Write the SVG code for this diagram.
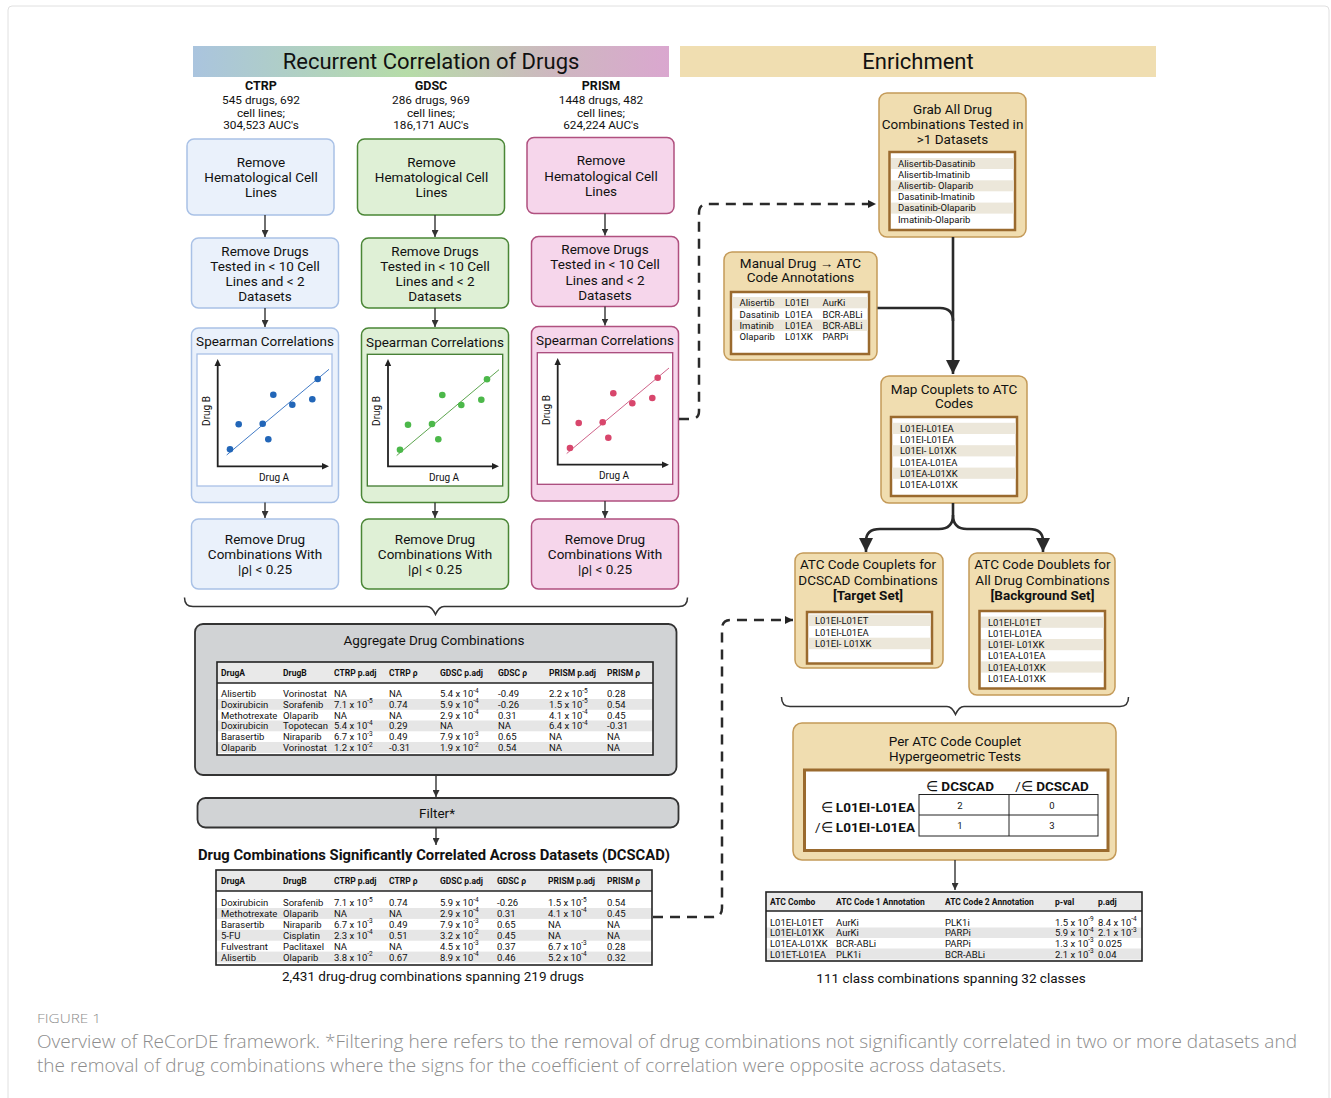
<svg xmlns="http://www.w3.org/2000/svg" width="1331" height="1098" viewBox="0 0 1331 1098">
<defs>
<linearGradient id="hg" x1="0" y1="0" x2="1" y2="0">
<stop offset="0" stop-color="#aac4de"/>
<stop offset="0.45" stop-color="#b6dca8"/>
<stop offset="0.75" stop-color="#cdb8bf"/>
<stop offset="1" stop-color="#daa7cf"/>
</linearGradient>
<marker id="a" viewBox="0 0 10 10" refX="10" refY="5" markerWidth="7" markerHeight="7" markerUnits="userSpaceOnUse" orient="auto"><path d="M0,0L10,5L0,10z" fill="#333"/></marker>
<marker id="ab" viewBox="0 0 10 10" refX="10" refY="5" markerWidth="14" markerHeight="14" markerUnits="userSpaceOnUse" orient="auto"><path d="M0,0L10,5L0,10z" fill="#2a2a2a"/></marker>
<marker id="as" viewBox="0 0 10 10" refX="10" refY="5" markerWidth="8" markerHeight="8" markerUnits="userSpaceOnUse" orient="auto"><path d="M0,0L10,5L0,10z" fill="#222"/></marker>
</defs>
<style>
text{font-family:Roboto,"Liberation Sans",sans-serif;fill:#111;dominant-baseline:central}
.c{text-anchor:middle}
.f13{font-size:13.5px}
.f12{font-size:12.5px}
.f11{font-size:11.8px}
.f10{font-size:10px}
.tb{font-size:9.5px}
.th{font-size:8.5px;font-weight:bold}
.bd{font-weight:bold}
.el{font-weight:normal}
.sup{font-size:6.5px}
.hdr{font-size:22px}
.ctrp{fill:#eaf1fb;stroke:#a9c1e6;stroke-width:1.5}
.gdsc{fill:#dff0d6;stroke:#4a8636;stroke-width:1.5}
.prism{fill:#f6d6eb;stroke:#b0507f;stroke-width:1.5}
.enr{fill:#f0ddb0;stroke:#c49a58;stroke-width:1.5}
.inn{fill:#fff;stroke:#9a6a2e;stroke-width:2.5}
.sh{fill:#ece7da}
.shg{fill:#e6e6e6}
.ln{fill:none;stroke:#333;stroke-width:1.4}
.lnb{fill:none;stroke:#2a2a2a;stroke-width:2.6}
.dash{fill:none;stroke:#2a2a2a;stroke-width:2.5;stroke-dasharray:10 7}
.cap{font-family:"Open Sans","Liberation Sans",sans-serif;fill:#8c8c8c;font-weight:300}
</style>
<rect x="8" y="6" width="1321" height="1100" rx="4" fill="#fff" stroke="#e0e0e0"/>

<g id="hdr-left"><rect x="193" y="46" width="476" height="31" fill="url(#hg)"/><text x="431" y="61.5" class="c hdr">Recurrent Correlation of Drugs</text></g>
<g id="hdr-right"><rect x="680" y="46" width="476" height="31" fill="#f0deb1"/><text x="918" y="61.5" class="c hdr">Enrichment</text></g>

<g id="lbl-ctrp"><text x="261" y="85" class="c f12 bd">CTRP</text><text x="261" y="100" class="c f11">545 drugs, 692</text><text x="261" y="112.5" class="c f11">cell lines;</text><text x="261" y="125" class="c f11">304,523 AUC's</text></g>
<g id="lbl-gdsc"><text x="431" y="85" class="c f12 bd">GDSC</text><text x="431" y="100" class="c f11">286 drugs, 969</text><text x="431" y="112.5" class="c f11">cell lines;</text><text x="431" y="125" class="c f11">186,171 AUC's</text></g>
<g id="lbl-prism"><text x="601" y="85" class="c f12 bd">PRISM</text><text x="601" y="100" class="c f11">1448 drugs, 482</text><text x="601" y="112.5" class="c f11">cell lines;</text><text x="601" y="125" class="c f11">624,224 AUC's</text></g>

<g id="ctrp-heme"><rect x="187" y="139" width="147" height="76" rx="7" class="ctrp"/><text x="261" y="161.5" class="c f13">Remove</text><text x="261" y="177" class="c f13">Hematological Cell</text><text x="261" y="192" class="c f13">Lines</text></g>
<g id="gdsc-heme"><rect x="357.5" y="139" width="147" height="76" rx="7" class="gdsc"/><text x="431.5" y="161.5" class="c f13">Remove</text><text x="431.5" y="177" class="c f13">Hematological Cell</text><text x="431.5" y="192" class="c f13">Lines</text></g>
<g id="prism-heme"><rect x="527" y="137.5" width="147" height="76" rx="7" class="prism"/><text x="601" y="160" class="c f13">Remove</text><text x="601" y="175.5" class="c f13">Hematological Cell</text><text x="601" y="190.5" class="c f13">Lines</text></g>

<g id="ctrp-drugs"><rect x="191.5" y="238" width="147" height="70" rx="7" class="ctrp"/><text x="265" y="250.5" class="c f13">Remove Drugs</text><text x="265" y="265.5" class="c f13">Tested in &lt; 10 Cell</text><text x="265" y="281" class="c f13">Lines and &lt; 2</text><text x="265" y="296" class="c f13">Datasets</text></g>
<g id="gdsc-drugs"><rect x="361.5" y="238" width="147" height="70" rx="7" class="gdsc"/><text x="435" y="250.5" class="c f13">Remove Drugs</text><text x="435" y="265.5" class="c f13">Tested in &lt; 10 Cell</text><text x="435" y="281" class="c f13">Lines and &lt; 2</text><text x="435" y="296" class="c f13">Datasets</text></g>
<g id="prism-drugs"><rect x="531.5" y="236.5" width="147" height="70" rx="7" class="prism"/><text x="605" y="249" class="c f13">Remove Drugs</text><text x="605" y="264" class="c f13">Tested in &lt; 10 Cell</text><text x="605" y="279.5" class="c f13">Lines and &lt; 2</text><text x="605" y="294.5" class="c f13">Datasets</text></g>

<g id="ctrp-spearman">
<rect x="191.5" y="328" width="147" height="174.5" rx="7" class="ctrp"/>
<text x="265" y="341" class="c f13">Spearman Correlations</text>
<rect x="197" y="354" width="135" height="132" fill="#fff" stroke="#a9c1e6" stroke-width="1.3"/>
<line x1="226.7" y1="455" x2="329" y2="369.3" stroke="#2c6cc0" stroke-width="0.9"/>
<g fill="#2266b8"><circle cx="230" cy="449.3" r="3.3"/><circle cx="238.7" cy="424.3" r="3.3"/><circle cx="262.7" cy="423.7" r="3.3"/><circle cx="268.3" cy="439.3" r="3.3"/><circle cx="273.3" cy="394.7" r="3.3"/><circle cx="292.3" cy="404.7" r="3.3"/><circle cx="312.3" cy="399.3" r="3.3"/><circle cx="317.7" cy="379" r="3.3"/></g>
<path d="M217.7,362V466.3H326" fill="none" stroke="#222" stroke-width="1.8"/>
<path d="M217.7,359l-3.2,7h6.4zM329,466.3l-7,-3.2v6.4z" fill="#222"/>
<text transform="translate(206,411) rotate(-90)" class="c f10">Drug B</text>
<text x="274" y="477" class="c f10">Drug A</text>
</g>
<g id="gdsc-spearman">
<rect x="361.5" y="328" width="147" height="174.5" rx="7" class="gdsc"/>
<text x="435" y="341.5" class="c f13">Spearman Correlations</text>
<rect x="367.3" y="354.3" width="135.4" height="131.7" fill="#fff" stroke="#3f7a2e" stroke-width="1.3"/>
<line x1="396.7" y1="455.5" x2="499" y2="369.7" stroke="#4a9a3a" stroke-width="0.9"/>
<g fill="#4cb84a"><circle cx="400" cy="449.7" r="3.3"/><circle cx="408" cy="424.7" r="3.3"/><circle cx="432" cy="424" r="3.3"/><circle cx="438.3" cy="439.3" r="3.3"/><circle cx="442.3" cy="395" r="3.3"/><circle cx="461.3" cy="405" r="3.3"/><circle cx="481.3" cy="399.7" r="3.3"/><circle cx="487" cy="379.3" r="3.3"/></g>
<path d="M388,362V466.3H496" fill="none" stroke="#222" stroke-width="1.8"/>
<path d="M388,359l-3.2,7h6.4zM499,466.3l-7,-3.2v6.4z" fill="#222"/>
<text transform="translate(376,411) rotate(-90)" class="c f10">Drug B</text>
<text x="444" y="477" class="c f10">Drug A</text>
</g>
<g id="prism-spearman">
<rect x="531.5" y="326.5" width="147" height="174.5" rx="7" class="prism"/>
<text x="605" y="339.5" class="c f13">Spearman Correlations</text>
<rect x="537.3" y="352.7" width="135.4" height="131.6" fill="#fff" stroke="#a8487a" stroke-width="1.3"/>
<line x1="566.7" y1="453.5" x2="669" y2="368" stroke="#c8507a" stroke-width="0.9"/>
<g fill="#d8466c"><circle cx="570" cy="448" r="3.3"/><circle cx="578.7" cy="423" r="3.3"/><circle cx="602.7" cy="422.3" r="3.3"/><circle cx="608.3" cy="437.7" r="3.3"/><circle cx="613.3" cy="393.3" r="3.3"/><circle cx="632.3" cy="403.3" r="3.3"/><circle cx="652.3" cy="398" r="3.3"/><circle cx="657.7" cy="377.7" r="3.3"/></g>
<path d="M557.7,361V464.7H666" fill="none" stroke="#222" stroke-width="1.8"/>
<path d="M557.7,358l-3.2,7h6.4zM669,464.7l-7,-3.2v6.4z" fill="#222"/>
<text transform="translate(546,410) rotate(-90)" class="c f10">Drug B</text>
<text x="614" y="475.5" class="c f10">Drug A</text>
</g>

<g id="ctrp-rho"><rect x="191.5" y="519" width="147" height="70" rx="7" class="ctrp"/><text x="265" y="539" class="c f13">Remove Drug</text><text x="265" y="553.5" class="c f13">Combinations With</text><text x="265" y="569" class="c f13">|ρ| &lt; 0.25</text></g>
<g id="gdsc-rho"><rect x="361.5" y="519" width="147" height="70" rx="7" class="gdsc"/><text x="435" y="539" class="c f13">Remove Drug</text><text x="435" y="553.5" class="c f13">Combinations With</text><text x="435" y="569" class="c f13">|ρ| &lt; 0.25</text></g>
<g id="prism-rho"><rect x="531.5" y="519" width="147" height="70" rx="7" class="prism"/><text x="605" y="539" class="c f13">Remove Drug</text><text x="605" y="553.5" class="c f13">Combinations With</text><text x="605" y="569" class="c f13">|ρ| &lt; 0.25</text></g>

<g id="brace-left"><path d="M184.5,597.5Q184.5,606.5 193,606.5H427Q432,606.5 435.5,614.5Q439,606.5 444,606.5H679Q687.5,606.5 687.5,597.5" fill="none" stroke="#333" stroke-width="1.5"/></g>
<g id="brace-right"><path d="M781.5,697Q781.5,706.5 790,706.5H947Q952,706.5 955.5,714.5Q959,706.5 964,706.5H1120Q1128.5,706.5 1128.5,697" fill="none" stroke="#333" stroke-width="1.5"/></g>

<g id="aggregate">
<rect x="195" y="624" width="481.5" height="151" rx="8" fill="#d1d3d5" stroke="#333" stroke-width="1.8"/>
<text x="434" y="640" class="c f13">Aggregate Drug Combinations</text>
<rect x="217" y="662" width="436" height="93" fill="#fff"/>
<rect x="217" y="662" width="436" height="21" fill="#e9e9e9"/>
<rect x="217" y="699" width="436" height="10.8" class="shg"/><rect x="217" y="720.5" width="436" height="10.8" class="shg"/><rect x="217" y="742" width="436" height="11" class="shg"/>
<line x1="217" y1="683" x2="653" y2="683" stroke="#222" stroke-width="1.5"/>
<rect x="217" y="662" width="436" height="93" fill="none" stroke="#222" stroke-width="1.6"/>
<g class="th"><text x="221" y="672.5">DrugA</text><text x="283" y="672.5">DrugB</text><text x="334" y="672.5">CTRP p.adj</text><text x="389" y="672.5">CTRP ρ</text><text x="440" y="672.5">GDSC p.adj</text><text x="498" y="672.5">GDSC ρ</text><text x="549" y="672.5">PRISM p.adj</text><text x="607" y="672.5">PRISM ρ</text></g>
<g class="tb">
<text x="221" y="693.5">Alisertib</text><text x="283" y="693.5">Vorinostat</text><text x="334" y="693.5">NA</text><text x="389" y="693.5">NA</text><text x="440" y="693.5">5.4 x 10<tspan class="sup" dy="-3">-4</tspan></text><text x="498" y="693.5">-0.49</text><text x="549" y="693.5">2.2 x 10<tspan class="sup" dy="-3">-5</tspan></text><text x="607" y="693.5">0.28</text>
<text x="221" y="704.3">Doxirubicin</text><text x="283" y="704.3">Sorafenib</text><text x="334" y="704.3">7.1 x 10<tspan class="sup" dy="-3">-5</tspan></text><text x="389" y="704.3">0.74</text><text x="440" y="704.3">5.9 x 10<tspan class="sup" dy="-3">-4</tspan></text><text x="498" y="704.3">-0.26</text><text x="549" y="704.3">1.5 x 10<tspan class="sup" dy="-3">-5</tspan></text><text x="607" y="704.3">0.54</text>
<text x="221" y="715.1">Methotrexate</text><text x="283" y="715.1">Olaparib</text><text x="334" y="715.1">NA</text><text x="389" y="715.1">NA</text><text x="440" y="715.1">2.9 x 10<tspan class="sup" dy="-3">-4</tspan></text><text x="498" y="715.1">0.31</text><text x="549" y="715.1">4.1 x 10<tspan class="sup" dy="-3">-4</tspan></text><text x="607" y="715.1">0.45</text>
<text x="221" y="725.9">Doxirubicin</text><text x="283" y="725.9">Topotecan</text><text x="334" y="725.9">5.4 x 10<tspan class="sup" dy="-3">-4</tspan></text><text x="389" y="725.9">0.29</text><text x="440" y="725.9">NA</text><text x="498" y="725.9">NA</text><text x="549" y="725.9">6.4 x 10<tspan class="sup" dy="-3">-4</tspan></text><text x="607" y="725.9">-0.31</text>
<text x="221" y="736.7">Barasertib</text><text x="283" y="736.7">Niraparib</text><text x="334" y="736.7">6.7 x 10<tspan class="sup" dy="-3">-3</tspan></text><text x="389" y="736.7">0.49</text><text x="440" y="736.7">7.9 x 10<tspan class="sup" dy="-3">-3</tspan></text><text x="498" y="736.7">0.65</text><text x="549" y="736.7">NA</text><text x="607" y="736.7">NA</text>
<text x="221" y="747.5">Olaparib</text><text x="283" y="747.5">Vorinostat</text><text x="334" y="747.5">1.2 x 10<tspan class="sup" dy="-3">-2</tspan></text><text x="389" y="747.5">-0.31</text><text x="440" y="747.5">1.9 x 10<tspan class="sup" dy="-3">-2</tspan></text><text x="498" y="747.5">0.54</text><text x="549" y="747.5">NA</text><text x="607" y="747.5">NA</text>
</g>
</g>

<g id="filter"><rect x="197.5" y="798" width="481" height="29.5" rx="8" fill="#d1d3d5" stroke="#333" stroke-width="1.8"/><text x="437" y="813" class="c f13">Filter*</text></g>

<g id="dcscad">
<text x="434" y="855.5" class="c bd" style="font-size:14.5px" textLength="472" lengthAdjust="spacingAndGlyphs">Drug Combinations Significantly Correlated Across Datasets (DCSCAD)</text>
<rect x="216" y="870" width="436" height="95" fill="#fff"/>
<rect x="216" y="870" width="436" height="21" fill="#e9e9e9"/>
<rect x="216" y="908" width="436" height="10.9" class="shg"/><rect x="216" y="929.8" width="436" height="10.9" class="shg"/><rect x="216" y="951.6" width="436" height="11" class="shg"/>
<line x1="216" y1="891" x2="652" y2="891" stroke="#222" stroke-width="1.5"/>
<rect x="216" y="870" width="436" height="95" fill="none" stroke="#222" stroke-width="1.6"/>
<g class="th"><text x="221" y="881">DrugA</text><text x="283" y="881">DrugB</text><text x="334" y="881">CTRP p.adj</text><text x="389" y="881">CTRP ρ</text><text x="440" y="881">GDSC p.adj</text><text x="497" y="881">GDSC ρ</text><text x="548" y="881">PRISM p.adj</text><text x="607" y="881">PRISM ρ</text></g>
<g class="tb">
<text x="221" y="902.5">Doxirubicin</text><text x="283" y="902.5">Sorafenib</text><text x="334" y="902.5">7.1 x 10<tspan class="sup" dy="-3">-5</tspan></text><text x="389" y="902.5">0.74</text><text x="440" y="902.5">5.9 x 10<tspan class="sup" dy="-3">-4</tspan></text><text x="497" y="902.5">-0.26</text><text x="548" y="902.5">1.5 x 10<tspan class="sup" dy="-3">-5</tspan></text><text x="607" y="902.5">0.54</text>
<text x="221" y="913.4">Methotrexate</text><text x="283" y="913.4">Olaparib</text><text x="334" y="913.4">NA</text><text x="389" y="913.4">NA</text><text x="440" y="913.4">2.9 x 10<tspan class="sup" dy="-3">-4</tspan></text><text x="497" y="913.4">0.31</text><text x="548" y="913.4">4.1 x 10<tspan class="sup" dy="-3">-4</tspan></text><text x="607" y="913.4">0.45</text>
<text x="221" y="924.3">Barasertib</text><text x="283" y="924.3">Niraparib</text><text x="334" y="924.3">6.7 x 10<tspan class="sup" dy="-3">-3</tspan></text><text x="389" y="924.3">0.49</text><text x="440" y="924.3">7.9 x 10<tspan class="sup" dy="-3">-3</tspan></text><text x="497" y="924.3">0.65</text><text x="548" y="924.3">NA</text><text x="607" y="924.3">NA</text>
<text x="221" y="935.2">5-FU</text><text x="283" y="935.2">Cisplatin</text><text x="334" y="935.2">2.3 x 10<tspan class="sup" dy="-3">-4</tspan></text><text x="389" y="935.2">0.51</text><text x="440" y="935.2">3.2 x 10<tspan class="sup" dy="-3">-2</tspan></text><text x="497" y="935.2">0.45</text><text x="548" y="935.2">NA</text><text x="607" y="935.2">NA</text>
<text x="221" y="946.1">Fulvestrant</text><text x="283" y="946.1">Paclitaxel</text><text x="334" y="946.1">NA</text><text x="389" y="946.1">NA</text><text x="440" y="946.1">4.5 x 10<tspan class="sup" dy="-3">-3</tspan></text><text x="497" y="946.1">0.37</text><text x="548" y="946.1">6.7 x 10<tspan class="sup" dy="-3">-3</tspan></text><text x="607" y="946.1">0.28</text>
<text x="221" y="957">Alisertib</text><text x="283" y="957">Olaparib</text><text x="334" y="957">3.8 x 10<tspan class="sup" dy="-3">-2</tspan></text><text x="389" y="957">0.67</text><text x="440" y="957">8.9 x 10<tspan class="sup" dy="-3">-4</tspan></text><text x="497" y="957">0.46</text><text x="548" y="957">5.2 x 10<tspan class="sup" dy="-3">-4</tspan></text><text x="607" y="957">0.32</text>
</g>
<text x="433" y="976" class="c f13">2,431 drug-drug combinations spanning 219 drugs</text>
</g>

<g id="grab">
<rect x="879" y="93" width="147" height="144" rx="8" class="enr"/>
<text x="952.5" y="108.5" class="c f13">Grab All Drug</text><text x="952.5" y="123.5" class="c f13">Combinations Tested in</text><text x="952.5" y="138.5" class="c f13">&gt;1 Datasets</text>
<rect x="889.5" y="152" width="125.5" height="78" class="inn"/>
<rect x="891" y="158" width="122.5" height="11" class="sh"/><rect x="891" y="180.3" width="122.5" height="11" class="sh"/><rect x="891" y="202.6" width="122.5" height="11" class="sh"/>
<g class="tb"><text x="898" y="163.5">Alisertib-Dasatinib</text><text x="898" y="174.6">Alisertib-Imatinib</text><text x="898" y="185.7">Alisertib- Olaparib</text><text x="898" y="196.8">Dasatinib-Imatinib</text><text x="898" y="207.9">Dasatinib-Olaparib</text><text x="898" y="219">Imatinib-Olaparib</text></g>
</g>
<g id="manual">
<rect x="724" y="252" width="153" height="108" rx="8" class="enr"/>
<text x="800.5" y="262.5" class="c f13">Manual Drug → ATC</text><text x="800.5" y="277" class="c f13">Code Annotations</text>
<rect x="731" y="292" width="138" height="62" class="inn"/>
<rect x="732.5" y="297" width="135" height="11.3" class="sh"/><rect x="732.5" y="319.6" width="135" height="11.3" class="sh"/>
<g class="tb"><text x="739.5" y="302.7">Alisertib</text><text x="785" y="302.7">L01EI</text><text x="822.5" y="302.7">AurKi</text>
<text x="739.5" y="314">Dasatinib</text><text x="785" y="314">L01EA</text><text x="822.5" y="314">BCR-ABLi</text>
<text x="739.5" y="325.3">Imatinib</text><text x="785" y="325.3">L01EA</text><text x="822.5" y="325.3">BCR-ABLi</text>
<text x="739.5" y="336.6">Olaparib</text><text x="785" y="336.6">L01XK</text><text x="822.5" y="336.6">PARPi</text></g>
</g>
<g id="map">
<rect x="881" y="376" width="146" height="127" rx="8" class="enr"/>
<text x="954" y="388.5" class="c f13">Map Couplets to ATC</text><text x="954" y="403" class="c f13">Codes</text>
<rect x="891" y="417" width="126" height="79" class="inn"/>
<rect x="892.5" y="422.8" width="123" height="11.2" class="sh"/><rect x="892.5" y="445.2" width="123" height="11.2" class="sh"/><rect x="892.5" y="467.6" width="123" height="11.2" class="sh"/>
<g class="tb"><text x="900" y="428.4">L01EI-L01EA</text><text x="900" y="439.6">L01EI-L01EA</text><text x="900" y="450.8">L01EI- L01XK</text><text x="900" y="462">L01EA-L01EA</text><text x="900" y="473.2">L01EA-L01XK</text><text x="900" y="484.4">L01EA-L01XK</text></g>
</g>
<g id="target">
<rect x="795" y="553" width="148" height="115" rx="8" class="enr"/>
<text x="868" y="564" class="c f13">ATC Code Couplets for</text><text x="868" y="579.5" class="c f13">DCSCAD Combinations</text><text x="868" y="595" class="c f13 bd">[Target Set]</text>
<rect x="807" y="612" width="125" height="51.5" class="inn"/>
<rect x="808.5" y="614.5" width="122" height="11.5" class="sh"/><rect x="808.5" y="637.7" width="122" height="11.5" class="sh"/>
<g class="tb"><text x="815" y="620.3">L01EI-L01ET</text><text x="815" y="632">L01EI-L01EA</text><text x="815" y="643.5">L01EI- L01XK</text></g>
</g>
<g id="background">
<rect x="969" y="553" width="146" height="142" rx="8" class="enr"/>
<text x="1042.5" y="564" class="c f13">ATC Code Doublets for</text><text x="1042.5" y="579.5" class="c f13">All Drug Combinations</text><text x="1042.5" y="594.5" class="c f13 bd">[Background Set]</text>
<rect x="979.5" y="611" width="125.5" height="77.5" class="inn"/>
<rect x="981" y="616.6" width="122.5" height="11.2" class="sh"/><rect x="981" y="639" width="122.5" height="11.2" class="sh"/><rect x="981" y="661.4" width="122.5" height="11.2" class="sh"/>
<g class="tb"><text x="988" y="622.3">L01EI-L01ET</text><text x="988" y="633.5">L01EI-L01EA</text><text x="988" y="644.7">L01EI- L01XK</text><text x="988" y="655.9">L01EA-L01EA</text><text x="988" y="667.1">L01EA-L01XK</text><text x="988" y="678.3">L01EA-L01XK</text></g>
</g>
<g id="hypergeo">
<rect x="793" y="723" width="323" height="137" rx="9" class="enr"/>
<text x="955" y="740.5" class="c f13">Per ATC Code Couplet</text><text x="955" y="755.5" class="c f13">Hypergeometric Tests</text>
<rect x="804.5" y="770" width="303.5" height="80.5" fill="#fff" stroke="#9a6a2e" stroke-width="3"/>
<text x="960" y="786" class="c f13 bd"><tspan class="el">∈</tspan> DCSCAD</text><text x="1052" y="786" class="c f13 bd"><tspan class="el">/∈</tspan>  DCSCAD</text>
<text x="915" y="806.5" class="f13 bd" text-anchor="end"><tspan class="el">∈</tspan> L01EI-L01EA</text><text x="915" y="827" class="f13 bd" text-anchor="end"><tspan class="el">/∈</tspan>  L01EI-L01EA</text>
<rect x="919" y="794.5" width="179" height="41.5" fill="#fff" stroke="#222" stroke-width="1"/>
<line x1="1009" y1="794.5" x2="1009" y2="836" stroke="#222"/><line x1="919" y1="815" x2="1098" y2="815" stroke="#222"/>
<g class="tb c"><text x="960" y="805">2</text><text x="1052" y="805">0</text><text x="960" y="825.5">1</text><text x="1052" y="825.5">3</text></g>
</g>
<g id="results">
<rect x="766" y="892" width="376" height="69" fill="#fff"/>
<rect x="766" y="892" width="376" height="19" fill="#e9e9e9"/>
<rect x="766" y="927.5" width="376" height="10.5" class="shg"/><rect x="766" y="948.5" width="376" height="11" class="shg"/>
<line x1="766" y1="911" x2="1142" y2="911" stroke="#222" stroke-width="1.5"/>
<rect x="766" y="892" width="376" height="69" fill="none" stroke="#222" stroke-width="1.6"/>
<g class="th"><text x="770" y="901.5">ATC Combo</text><text x="836" y="901.5">ATC Code 1 Annotation</text><text x="945" y="901.5">ATC Code 2 Annotation</text><text x="1055" y="901.5">p-val</text><text x="1098" y="901.5">p.adj</text></g>
<g class="tb">
<text x="770" y="922">L01EI-L01ET</text><text x="836" y="922">AurKi</text><text x="945" y="922">PLK1i</text><text x="1055" y="922">1.5 x 10<tspan class="sup" dy="-3">-9</tspan></text><text x="1098" y="922">8.4 x 10<tspan class="sup" dy="-3">-4</tspan></text>
<text x="770" y="932.7">L01EI-L01XK</text><text x="836" y="932.7">AurKi</text><text x="945" y="932.7">PARPi</text><text x="1055" y="932.7">5.9 x 10<tspan class="sup" dy="-3">-4</tspan></text><text x="1098" y="932.7">2.1 x 10<tspan class="sup" dy="-3">-3</tspan></text>
<text x="770" y="943.3">L01EA-L01XK</text><text x="836" y="943.3">BCR-ABLi</text><text x="945" y="943.3">PARPi</text><text x="1055" y="943.3">1.3 x 10<tspan class="sup" dy="-3">-3</tspan></text><text x="1098" y="943.3">0.025</text>
<text x="770" y="954">L01ET-L01EA</text><text x="836" y="954">PLK1i</text><text x="945" y="954">BCR-ABLi</text><text x="1055" y="954">2.1 x 10<tspan class="sup" dy="-3">-3</tspan></text><text x="1098" y="954">0.04</text>
</g>
<text x="951" y="977.5" class="c f13">111 class combinations spanning 32 classes</text>
</g>

<g id="connectors">
<path d="M265,215V237" class="ln" marker-end="url(#a)"/>
<path d="M435,215V237" class="ln" marker-end="url(#a)"/>
<path d="M605,213.5V235.5" class="ln" marker-end="url(#a)"/>
<path d="M265,308V327" class="ln" marker-end="url(#a)"/>
<path d="M435,308V327" class="ln" marker-end="url(#a)"/>
<path d="M605,306.5V325.5" class="ln" marker-end="url(#a)"/>
<path d="M265,502.5V518" class="ln" marker-end="url(#a)"/>
<path d="M435,502.5V518" class="ln" marker-end="url(#a)"/>
<path d="M605,501V518" class="ln" marker-end="url(#a)"/>
<path d="M436,775V797" class="ln" marker-end="url(#a)"/>
<path d="M436,827.5V845" class="ln" marker-end="url(#a)"/>
<path d="M955,860V890" class="ln" marker-end="url(#a)"/>
<path d="M679,419H691Q699,419 699,411V213Q699,204 708,204H876" class="dash" marker-end="url(#as)"/>
<path d="M653,917H713Q722,917 722,908V629Q722,620 731,620H793" class="dash" marker-end="url(#as)"/>
<path d="M953,237V374" class="lnb" marker-end="url(#ab)"/>
<path d="M877.5,308H940Q953,308 953,321" class="lnb"/>
<path d="M953,503V515Q953,529 939,529H880Q866,529 866,541V552" class="lnb" marker-end="url(#ab)"/>
<path d="M953,515Q953,529 967,529H1029Q1043,529 1043,541V552" class="lnb" marker-end="url(#ab)"/>
</g>

<g id="caption">
<text x="37" y="1018" class="cap" style="font-size:13px" textLength="64" lengthAdjust="spacingAndGlyphs">FIGURE 1</text>
<text x="37" y="1041" class="cap" style="font-size:17.5px" textLength="1260" lengthAdjust="spacingAndGlyphs">Overview of ReCorDE framework. *Filtering here refers to the removal of drug combinations not significantly correlated in two or more datasets and</text>
<text x="37" y="1065" class="cap" style="font-size:17.5px" textLength="969" lengthAdjust="spacingAndGlyphs">the removal of drug combinations where the signs for the coefficient of correlation were opposite across datasets.</text>
</g>
</svg>
